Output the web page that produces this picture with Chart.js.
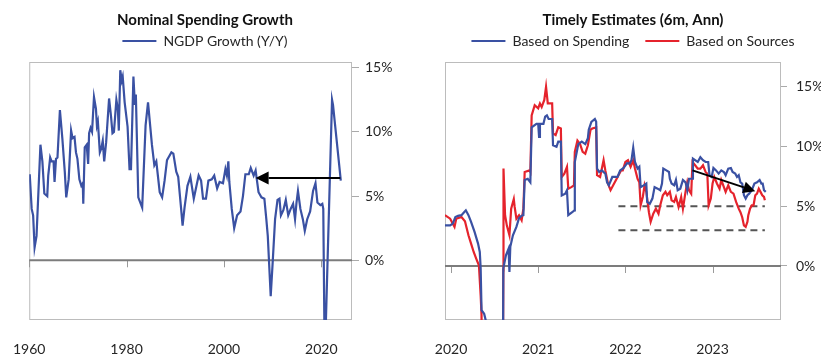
<!DOCTYPE html>
<html>
<head>
<meta charset="utf-8">
<script src="https://cdn.jsdelivr.net/npm/chart.js@4.4.1/dist/chart.umd.min.js"></script>
<style>
  html, body { margin: 0; padding: 0; background: #fff; }
  #wrap { position: relative; width: 840px; height: 359px; }
  #ngdpChart   { position: absolute; left: 0;     top: 0; }
  #timelyChart { position: absolute; left: 420px; top: 0; }
</style>
</head>
<body>
<div id="wrap">
  <canvas id="ngdpChart" width="410" height="359" style="width:410px;height:359px"></canvas>
  <canvas id="timelyChart" width="420" height="359" style="width:420px;height:359px"></canvas>
</div>
<script>
// ── Data: Nominal spending growth (Y/Y, %) ────────────────────────
const ngdpYears = [1960.1,1960.5,1960.8,1961.1,1961.5,1962.3,1962.7,1963.1,1963.7,1963.9,1964.3,1964.6,1965.0,1965.2,1965.5,1965.8,1966.3,1966.8,1967.3,1967.6,1968.1,1968.6,1968.9,1969.3,1969.6,1969.9,1970.3,1970.7,1971.0,1971.1,1971.4,1971.8,1972.1,1972.3,1972.6,1972.9,1973.3,1973.7,1973.9,1974.1,1974.5,1974.8,1975.1,1975.4,1975.8,1976.4,1976.8,1977.1,1977.4,1977.9,1978.2,1978.4,1978.7,1979.0,1979.2,1979.6,1980.2,1980.6,1980.9,1981.4,1981.7,1981.9,1982.4,1983.2,1983.9,1984.4,1985.2,1985.7,1986.1,1986.8,1987.3,1987.8,1988.3,1988.6,1989.2,1989.6,1990.2,1990.6,1991.2,1991.5,1991.9,1992.5,1993.1,1993.8,1994.3,1994.8,1995.3,1995.7,1996.3,1996.8,1997.5,1998.0,1998.6,1999.1,1999.8,2000.3,2000.6,2000.9,2001.1,2001.6,2002.1,2002.7,2003.4,2003.9,2004.4,2005.1,2005.5,2006.1,2006.5,2007.1,2007.7,2008.3,2008.7,2009.0,2009.6,2010.0,2010.5,2011.0,2011.4,2011.7,2012.2,2012.7,2013.2,2013.7,2014.2,2014.6,2014.9,2015.2,2015.7,2016.2,2016.6,2017.1,2017.7,2018.3,2018.8,2019.2,2019.8,2020.2,2020.4,2020.7,2022.2,2022.4,2024.0];
const ngdpValues = [6.7,4.0,3.5,1.0,1.9,9.0,7.7,5.2,5.0,6.6,8.0,7.7,7.7,6.1,7.9,8.0,11.7,9.5,6.9,4.9,6.3,10.1,9.5,9.6,8.4,7.9,6.3,5.8,6.0,4.4,8.8,9.0,7.5,9.9,10.3,10.0,12.7,11.8,10.5,10.8,8.4,8.7,9.3,7.7,9.2,12.6,11.2,9.9,10.0,12.5,11.8,10.1,14.8,14.0,14.3,12.3,10.4,7.1,7.1,14.3,12.1,12.9,4.9,4.1,10.5,12.3,9.0,7.4,7.7,5.3,4.9,6.2,7.8,8.0,8.4,8.3,6.9,6.5,4.0,2.7,4.1,5.8,6.5,4.8,5.7,6.6,6.2,4.8,4.8,6.2,6.3,6.6,5.6,6.1,6.0,7.1,6.6,7.7,6.1,4.0,2.5,3.5,3.8,5.0,6.7,6.7,7.2,6.6,7.0,5.3,4.9,4.8,3.2,1.9,-2.8,-0.2,3.2,4.7,4.8,3.5,3.9,4.7,3.5,4.0,4.4,3.2,4.5,5.4,4.0,3.2,2.3,3.2,3.8,5.4,6.0,4.5,4.3,4.4,4.0,-8.0,12.5,12.1,6.2];
const ngdpYearTicks = [1960, 1980, 2000, 2020];
const ngdpArrow = { from: [2023.9, 6.4], to: [2006.5, 6.4] };

// ── Data: Timely estimates (6m, annualised, %) ────────────────────
const spendDates = [2019.93,2019.99,2020.02,2020.05,2020.08,2020.12,2020.15,2020.17,2020.2,2020.23,2020.27,2020.31,2020.33,2020.34,2020.35,2020.38,2020.4,2020.42,2020.59,2020.6,2020.63,2020.66,2020.67,2020.68,2020.71,2020.75,2020.78,2020.81,2020.83,2020.845,2020.88,2020.91,2020.925,2020.98,2021.0,2021.01,2021.02,2021.06,2021.08,2021.1,2021.12,2021.16,2021.17,2021.21,2021.23,2021.26,2021.27,2021.31,2021.33,2021.345,2021.39,2021.415,2021.42,2021.46,2021.5,2021.54,2021.57,2021.58,2021.61,2021.65,2021.665,2021.675,2021.7,2021.73,2021.77,2021.79,2021.81,2021.85,2021.91,2021.94,2021.98,2022.02,2022.05,2022.07,2022.09,2022.11,2022.14,2022.16,2022.175,2022.21,2022.24,2022.25,2022.28,2022.31,2022.335,2022.37,2022.4,2022.42,2022.435,2022.47,2022.5,2022.51,2022.53,2022.56,2022.58,2022.6,2022.63,2022.66,2022.69,2022.71,2022.73,2022.765,2022.775,2022.8,2022.83,2022.86,2022.89,2022.92,2022.95,2022.965,2022.99,2023.01,2023.04,2023.07,2023.1,2023.13,2023.15,2023.18,2023.21,2023.23,2023.26,2023.28,2023.3,2023.32,2023.34,2023.36,2023.38,2023.4,2023.42,2023.45,2023.48,2023.51,2023.54,2023.56,2023.575,2023.59,2023.61];
const spendValues = [3.4,3.4,3.55,4.1,4.2,4.25,4.5,4.66,4.25,3.7,2.85,1.87,1.17,-0.2,-3.7,-4.0,-4.6,-20,-20,-0.2,0.9,1.45,-0.5,1.6,2.57,3.27,4.0,4.2,4.25,7.2,7.3,7.0,11.6,11.9,11.9,10.8,11.9,11.9,12.5,12.6,12.3,12.3,10.1,9.97,10.4,10.4,5.9,6.05,6.34,4.25,4.5,4.66,8.7,10.2,10.4,10.2,10.7,11.4,12.06,12.3,12.06,8.15,7.87,8.0,7.73,7.0,6.75,7.45,7.45,8.0,8.2,8.6,8.57,8.85,9.9,8.7,8.15,8.3,6.6,6.75,6.9,5.36,5.2,5.64,6.6,6.47,6.34,6.9,8.15,8.0,7.87,7.3,6.9,6.75,7.2,6.34,6.47,7.2,7.0,6.34,7.3,7.3,8.98,8.85,8.7,9.1,8.85,8.7,8.7,7.6,7.45,8.2,8.0,7.73,8.0,7.87,7.6,8.15,8.2,7.87,7.73,7.45,7.6,7.0,6.9,5.92,5.64,5.92,6.05,6.34,6.9,7.0,7.2,6.9,6.9,6.34,6.2];
const sourceDates = [2019.93,2019.99,2020.04,2020.06,2020.12,2020.16,2020.2,2020.23,2020.26,2020.29,2020.32,2020.34,2020.35,2020.37,2020.59,2020.6,2020.602,2020.62,2020.64,2020.67,2020.69,2020.72,2020.73,2020.75,2020.78,2020.81,2020.83,2020.845,2020.9,2020.91,2020.925,2020.96,2021.0,2021.02,2021.04,2021.07,2021.09,2021.11,2021.16,2021.17,2021.2,2021.23,2021.26,2021.27,2021.3,2021.33,2021.345,2021.38,2021.41,2021.42,2021.45,2021.48,2021.51,2021.54,2021.57,2021.6,2021.62,2021.665,2021.675,2021.71,2021.75,2021.77,2021.8,2021.83,2021.86,2021.9,2021.95,2021.97,2022.0,2022.03,2022.06,2022.09,2022.11,2022.14,2022.16,2022.175,2022.2,2022.22,2022.24,2022.27,2022.29,2022.32,2022.35,2022.38,2022.4,2022.43,2022.46,2022.48,2022.51,2022.53,2022.56,2022.58,2022.61,2022.64,2022.66,2022.69,2022.71,2022.73,2022.755,2022.77,2022.8,2022.83,2022.86,2022.89,2022.92,2022.94,2022.955,2022.98,2023.0,2023.02,2023.05,2023.08,2023.1,2023.13,2023.15,2023.18,2023.21,2023.24,2023.27,2023.3,2023.32,2023.34,2023.36,2023.38,2023.4,2023.41,2023.43,2023.45,2023.47,2023.49,2023.51,2023.53,2023.55,2023.57,2023.59,2023.6];
const sourceValues = [4.25,3.96,3.27,3.96,4.1,3.74,2.57,1.87,1.17,0.6,0.06,-2.46,-4.1,-20,-20,-0.36,8.15,4.25,3.4,2.57,4.8,5.6,4.94,3.96,4.25,3.83,4.8,7.87,8.0,7.87,12.6,13.46,13.2,13.6,13.3,13.9,15.0,13.6,13.6,11.1,10.95,11.6,11.5,7.45,7.73,8.3,6.47,6.6,6.75,9.55,10.5,10.2,9.55,9.4,10.1,11.4,11.5,11.6,7.6,7.45,8.85,8.0,6.9,6.34,6.75,7.3,8.0,8.0,8.7,8.85,8.3,8.85,8.15,7.3,7.0,5.08,5.78,6.75,6.2,4.5,3.7,4.38,4.8,4.38,5.08,5.92,6.2,5.92,6.2,5.5,5.36,5.78,4.94,5.78,4.8,6.2,7.0,6.34,6.05,8.7,8.43,8.15,8.15,8.43,7.87,7.73,5.08,5.64,6.9,7.45,6.9,6.47,7.2,6.6,6.2,6.75,6.2,6.05,5.36,4.8,4.5,4.08,3.4,3.27,3.7,4.25,4.8,5.08,5.08,5.92,6.05,6.47,6.2,5.92,5.78,5.5];
const timelyYearTicks = [2020, 2021, 2022, 2023];
const refSpan = [2021.92, 2023.6];     // dashed reference lines run over this range
const refLevels = [5, 3];
const timelyArrow = { from: [2022.77, 8.0], to: [2023.49, 6.26] };

const pctTicks = [0, 5, 10, 15];

// ── Styling ───────────────────────────────────────────────────────
const BLUE = '#3a51a3';
const RED  = '#e5232c';
const FONT = 'Lato';
const TEXT = '#262626';

const toPoints = (xs, ys) => xs.map((x, i) => ({ x, y: ys[i] }));

// frame round the plot, zero line, and year ticks hanging off the zero line
const framePlugin = {
  id: 'frame',
  beforeDatasetsDraw(chart) {
    const { ctx, chartArea: a, scales: { x, y } } = chart;
    ctx.save();
    ctx.strokeStyle = '#bcbcbc';
    ctx.lineWidth = 1;
    ctx.strokeRect(a.left + 0.5, a.top + 0.5, a.width - 1, a.height - 1);

    const y0 = y.getPixelForValue(0);
    ctx.strokeStyle = '#9a9a9a';
    x.ticks.forEach(t => {
      const px = Math.round(x.getPixelForValue(t.value)) + 0.5;
      ctx.beginPath();
      ctx.moveTo(px, y0);
      ctx.lineTo(px, y0 + 7);
      ctx.stroke();
    });

    ctx.strokeStyle = '#7c7c7c';
    ctx.lineWidth = 2;
    ctx.beginPath();
    ctx.moveTo(a.left, y0);
    ctx.lineTo(a.right, y0);
    ctx.stroke();
    ctx.restore();
  }
};

// black annotation arrow, given in data units
const arrowPlugin = {
  id: 'arrow',
  afterDatasetsDraw(chart, args, opts) {
    if (!opts.from) return;
    const { ctx, scales: { x, y } } = chart;
    const x1 = x.getPixelForValue(opts.from[0]), y1 = y.getPixelForValue(opts.from[1]);
    const x2 = x.getPixelForValue(opts.to[0]),   y2 = y.getPixelForValue(opts.to[1]);
    const ang = Math.atan2(y2 - y1, x2 - x1);
    const head = opts.head || 13, half = opts.half || 6.5;
    const bx = x2 - head * Math.cos(ang), by = y2 - head * Math.sin(ang);
    ctx.save();
    ctx.strokeStyle = ctx.fillStyle = '#000';
    ctx.lineWidth = 2;
    ctx.beginPath();
    ctx.moveTo(x1, y1);
    ctx.lineTo(bx, by);
    ctx.stroke();
    ctx.beginPath();
    ctx.moveTo(x2, y2);
    ctx.lineTo(bx - half * Math.sin(ang), by + half * Math.cos(ang));
    ctx.lineTo(bx + half * Math.sin(ang), by - half * Math.cos(ang));
    ctx.closePath();
    ctx.fill();
    ctx.restore();
  }
};

function chartOptions(cfg) {
  return {
    responsive: false,
    animation: false,
    layout: { padding: { left: cfg.padL, right: cfg.padR, top: 0, bottom: 0 } },
    plugins: {
      title: {
        display: true,
        text: cfg.title,
        color: '#111',
        font: { family: FONT, size: 15, weight: 'bold' },
        padding: { top: 11, bottom: -11 }
      },
      legend: {
        position: 'top',
        labels: {
          usePointStyle: true,
          pointStyle: 'line',
          pointStyleWidth: 34,
          padding: 16,
          color: TEXT,
          font: { family: FONT, size: 14 },
          filter: (item, data) => !data.datasets[item.datasetIndex].reference
        }
      },
      // thin spacer between legend and plot
      subtitle: { display: true, text: '', weight: 500, padding: 0, font: { size: 4, lineHeight: 1 } },
      tooltip: { enabled: false },
      arrow: cfg.arrow
    },
    scales: {
      x: {
        type: 'linear',
        min: cfg.xMin,
        max: cfg.xMax,
        afterBuildTicks: s => { s.ticks = cfg.xTicks.map(v => ({ value: v })); },
        afterFit: s => { s.height = 39; },
        grid: { display: false },
        border: { display: false },
        ticks: {
          padding: 13,
          autoSkip: false,
          maxRotation: 0,
          color: TEXT,
          font: { family: FONT, size: 14 },
          callback: v => String(v)
        }
      },
      y: {
        type: 'linear',
        position: 'right',
        min: cfg.yMin,
        max: cfg.yMax,
        afterBuildTicks: s => { s.ticks = pctTicks.map(v => ({ value: v })); },
        afterFit: s => { s.width = 40; },
        grid: { drawOnChartArea: false, drawTicks: true, tickLength: cfg.tickLen, tickColor: '#aaa' },
        border: { display: false },
        ticks: {
          padding: cfg.labelPad,
          color: TEXT,
          font: { family: FONT, size: 14 },
          callback: v => v + '%'
        }
      }
    }
  };
}

// ── Left: Nominal Spending Growth ─────────────────────────────────
new Chart(document.getElementById('ngdpChart').getContext('2d'), {
  type: 'line',
  data: {
    datasets: [{
      label: 'NGDP Growth (Y/Y)',
      data: toPoints(ngdpYears, ngdpValues),
      borderColor: BLUE,
      backgroundColor: BLUE,
      borderWidth: 2.2,
      pointRadius: 0,
      tension: 0
    }]
  },
  options: chartOptions({
    title: 'Nominal Spending Growth',
    padL: 18, padR: 18,
    xMin: 1960, xMax: 2026.3, xTicks: ngdpYearTicks,
    yMin: -4.65, yMax: 15.44,
    tickLen: 7, labelPad: 6,
    arrow: ngdpArrow
  }),
  plugins: [framePlugin, arrowPlugin]
});

// ── Right: Timely Estimates ───────────────────────────────────────
const refDatasets = refLevels.map(level => ({
  label: 'ref ' + level,
  reference: true,
  data: refSpan.map(x => ({ x, y: level })),
  borderColor: '#555',
  borderWidth: 2,
  borderDash: [7, 5],
  pointRadius: 0
}));

new Chart(document.getElementById('timelyChart').getContext('2d'), {
  type: 'line',
  data: {
    datasets: [{
      label: 'Based on Spending',
      data: toPoints(spendDates, spendValues),
      borderColor: BLUE,
      backgroundColor: BLUE,
      borderWidth: 2.2,
      pointRadius: 0,
      tension: 0
    }, {
      label: 'Based on Sources',
      data: toPoints(sourceDates, sourceValues),
      borderColor: RED,
      backgroundColor: RED,
      borderWidth: 2.2,
      pointRadius: 0,
      tension: 0
    }, ...refDatasets]
  },
  options: chartOptions({
    title: 'Timely Estimates (6m, Ann)',
    padL: 25, padR: 19,
    xMin: 2019.931, xMax: 2023.785, xTicks: timelyYearTicks,
    yMin: -4.52, yMax: 17.07,
    tickLen: 6, labelPad: 9,
    arrow: Object.assign({ head: 12, half: 6 }, timelyArrow)
  }),
  plugins: [framePlugin, arrowPlugin]
});
</script>
</body>
</html>
